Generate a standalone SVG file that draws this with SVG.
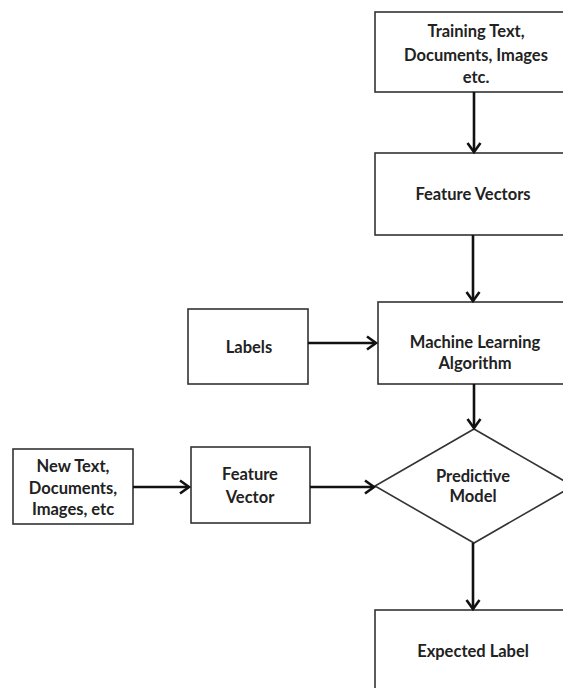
<svg xmlns="http://www.w3.org/2000/svg" width="563" height="688" viewBox="0 0 563 688">
  <style>
    .box { fill: #ffffff; stroke: #333333; stroke-width: 1.6; }
    .lbl { font-family: Lato, "Open Sans", "Liberation Sans", sans-serif; font-weight: bold; font-size: 16.5px; fill: #222222; text-anchor: middle; }
    .conn { stroke: #111111; stroke-width: 2.6; fill: none; }
  </style>
  <defs>
    <marker id="chev" markerUnits="userSpaceOnUse" markerWidth="16" markerHeight="16" viewBox="-13 -8 16 16" refX="0" refY="0" orient="auto">
      <path d="M-9,-6.5 L0,0 L-9,6.5" fill="none" stroke="#111111" stroke-width="2.6" stroke-linejoin="miter"/>
    </marker>
  </defs>
  <rect width="563" height="688" fill="#ffffff"/>

  <g id="training-data">
    <rect class="box" x="375" y="12" width="210" height="80"/>
    <text class="lbl" x="476" y="37">Training Text,</text>
    <text class="lbl" x="476" y="61">Documents, Images</text>
    <text class="lbl" x="476" y="83">etc.</text>
  </g>

  <g id="feature-vectors">
    <rect class="box" x="375" y="153" width="210" height="82"/>
    <text class="lbl" x="473" y="200">Feature Vectors</text>
  </g>

  <g id="labels">
    <rect class="box" x="188" y="309" width="120" height="75"/>
    <text class="lbl" x="249" y="353">Labels</text>
  </g>

  <g id="ml-algorithm">
    <rect class="box" x="378" y="302" width="210" height="82"/>
    <text class="lbl" x="475" y="348">Machine Learning</text>
    <text class="lbl" x="475" y="369">Algorithm</text>
  </g>

  <g id="new-data">
    <rect class="box" x="13" y="449" width="120" height="75"/>
    <text class="lbl" x="73" y="472">New Text,</text>
    <text class="lbl" x="73" y="494">Documents,</text>
    <text class="lbl" x="73" y="515">Images, etc</text>
  </g>

  <g id="feature-vector">
    <rect class="box" x="191" y="447" width="119" height="76"/>
    <text class="lbl" x="250" y="480">Feature</text>
    <text class="lbl" x="250" y="503">Vector</text>
  </g>

  <g id="predictive-model">
    <polygon class="box" points="474,429 573,486 474,543 375,486"/>
    <text class="lbl" x="473" y="482">Predictive</text>
    <text class="lbl" x="473" y="502">Model</text>
  </g>

  <g id="expected-label">
    <rect class="box" x="375" y="610" width="210" height="90"/>
    <text class="lbl" x="473" y="657">Expected Label</text>
  </g>

  <g id="connectors">
    <line class="conn" x1="474" y1="92" x2="474" y2="152" marker-end="url(#chev)"/>
    <line class="conn" x1="473" y1="235" x2="473" y2="301" marker-end="url(#chev)"/>
    <line class="conn" x1="308" y1="343" x2="376" y2="343" marker-end="url(#chev)"/>
    <line class="conn" x1="474" y1="384" x2="474" y2="428" marker-end="url(#chev)"/>
    <line class="conn" x1="133" y1="487" x2="189" y2="487" marker-end="url(#chev)"/>
    <line class="conn" x1="310" y1="487" x2="374" y2="487" marker-end="url(#chev)"/>
    <line class="conn" x1="473" y1="543" x2="473" y2="609" marker-end="url(#chev)"/>
  </g>
</svg>
